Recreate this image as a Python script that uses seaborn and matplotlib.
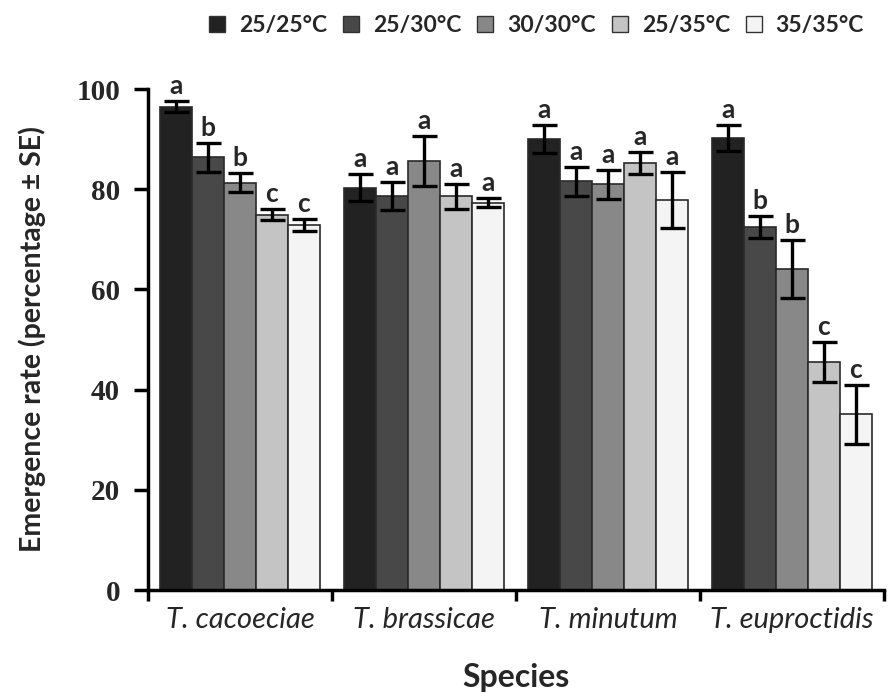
import matplotlib
matplotlib.use("Agg")
import matplotlib.pyplot as plt
from matplotlib.patches import Patch
import seaborn as sns
import pandas as pd
import numpy as np

species = ["T. cacoeciae", "T. brassicae", "T. minutum", "T. euproctidis"]
temps = ["25/25°C", "25/30°C", "30/30°C", "25/35°C", "35/35°C"]
colors = ["#222222", "#484848", "#888888", "#c4c4c4", "#f4f4f4"]

means = {
    "T. cacoeciae":   [96.5, 86.4, 81.3, 74.9, 72.9],
    "T. brassicae":   [80.3, 78.6, 85.7, 78.6, 77.3],
    "T. minutum":     [90.0, 81.6, 81.0, 85.3, 77.8],
    "T. euproctidis": [90.3, 72.5, 64.1, 45.6, 35.1],
}
ses = {
    "T. cacoeciae":   [1.1, 2.9, 1.9, 1.1, 1.2],
    "T. brassicae":   [2.7, 2.8, 5.0, 2.5, 0.9],
    "T. minutum":     [2.8, 2.9, 2.9, 2.2, 5.6],
    "T. euproctidis": [2.6, 2.2, 5.8, 4.0, 5.9],
}
letters = {
    "T. cacoeciae":   ["a", "b", "b", "c", "c"],
    "T. brassicae":   ["a", "a", "a", "a", "a"],
    "T. minutum":     ["a", "a", "a", "a", "a"],
    "T. euproctidis": ["a", "b", "b", "c", "c"],
}

rows = []
for s in species:
    for i, t in enumerate(temps):
        rows.append({"Species": s, "Temp": t, "Rate": means[s][i],
                     "SE": ses[s][i], "Letter": letters[s][i]})
df = pd.DataFrame(rows)

sns.set_theme(style="white")
sans = ["Lato", "DejaVu Sans"]
plt.rcParams["font.family"] = sans

fig = plt.figure(figsize=(8.9, 6.93), dpi=100)
ax = fig.add_axes([0.1663, 0.1486, 0.827, 0.7229])

sns.barplot(data=df, x="Species", y="Rate", hue="Temp", order=species,
            hue_order=temps, palette=colors, errorbar=None, width=0.865,
            edgecolor="#2a2a2a", linewidth=1.2, saturation=1, ax=ax,
            legend=False)

# error bars and letters
for j, t in enumerate(temps):
    cont = ax.containers[j]
    sub = df[df["Temp"] == t].set_index("Species").loc[species]
    xs = [p.get_x() + p.get_width() / 2 for p in cont.patches]
    ax.errorbar(xs, sub["Rate"].values, yerr=sub["SE"].values, fmt="none",
                ecolor="black", elinewidth=2.4, capsize=9, capthick=2.4,
                clip_on=False, zorder=5)
    for x, y, e, l in zip(xs, sub["Rate"].values, sub["SE"].values, sub["Letter"].values):
        ax.text(x, y + e + 0.6, l, ha="center", va="bottom", fontsize=19,
                fontweight="bold", family=sans, clip_on=False)

ax.set_xlim(-0.5, 3.5)
ax.set_ylim(0, 100)
ax.set_yticks([0, 20, 40, 60, 80, 100])
ax.set_yticklabels(["0", "20", "40", "60", "80", "100"],
                   family=["Liberation Serif"], fontweight="bold", fontsize=21)
ax.set_xticks([0, 1, 2, 3])
ax.set_xticklabels(species, fontstyle="italic", fontsize=21, family=sans)
ax.tick_params(axis="x", length=0, pad=12)
ax.set_xticks([-0.5, 0.5, 1.5, 2.5, 3.5], minor=True)
ax.tick_params(axis="x", which="minor", length=8, width=2.5, direction="out",
               color="black", bottom=True)
ax.tick_params(axis="y", length=10, width=2.5, direction="out", color="black",
               left=True, pad=10)

for side in ["top", "right"]:
    ax.spines[side].set_visible(False)
for side in ["left", "bottom"]:
    ax.spines[side].set_color("black")
    ax.spines[side].set_linewidth(2.5)

ax.set_ylabel("Emergence rate (percentage ± SE)", fontsize=20.5,
              fontweight="bold", labelpad=22)
ax.set_xlabel("Species", fontsize=23, fontweight="bold", labelpad=22)

handles = [Patch(facecolor=c, edgecolor="#333333", linewidth=1) for c in colors]
fig.legend(handles, temps, loc="upper center", bbox_to_anchor=(0.603, 1.008),
           ncol=5, frameon=False, prop={"family": sans, "weight": "bold", "size": 16.5},
           handlelength=0.7, handleheight=0.7, handletextpad=0.6, columnspacing=0.7)

fig.savefig("out.png", dpi=100)
